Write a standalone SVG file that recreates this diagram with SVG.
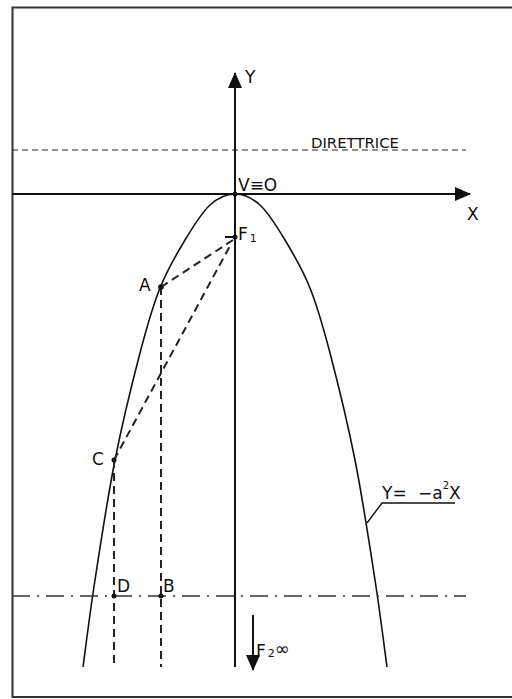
<svg xmlns="http://www.w3.org/2000/svg" width="512" height="699" viewBox="0 0 512 699">
<style>
text{font-family:"DejaVu Sans","Liberation Sans",sans-serif;fill:#111}
.lbl{font-size:17px}
.sub{font-size:11px}
.ax{stroke:#111;stroke-width:2;fill:none}
.dash{stroke:#222;stroke-width:2;stroke-dasharray:8 5;fill:none}
.dot{fill:#111}
</style>
<defs>
<marker id="arrBig" markerWidth="16" markerHeight="14" refX="15" refY="7" orient="auto" markerUnits="userSpaceOnUse" viewBox="0 0 16 14">
<path d="M0,0 L16,7 L0,14 Z" fill="#111"/>
</marker>
</defs>
<rect x="0" y="0" width="512" height="699" fill="#fff"/>
<rect x="12.5" y="7.5" width="512" height="689.5" fill="none" stroke="#333" stroke-width="2"/>

<g id="axes">
<line class="ax" x1="235" y1="667" x2="235" y2="73" marker-end="url(#arrBig)"/>
<line class="ax" x1="12" y1="194" x2="470" y2="194" marker-end="url(#arrBig)"/>
<text class="lbl" x="245" y="83">Y</text>
<text class="lbl" x="467" y="220">X</text>
</g>

<g id="directrix">
<line x1="12" y1="150" x2="466" y2="150" stroke="#222" stroke-width="1.2" stroke-dasharray="6 4"/>
<text x="311" y="148" font-size="14" textLength="88" lengthAdjust="spacingAndGlyphs">DIRETTRICE</text>
</g>

<g id="parabola">
<path d="M83,667 C85,652.5 89.67,614.5 95,580 C100.33,545.5 107.5,497.83 115,460 C122.5,422.17 132.5,381.67 140,353 C147.5,324.33 152.5,306.83 160,288 C167.5,269.17 176.67,253.83 185,240 C193.33,226.17 201.67,212.67 210,205 C218.33,197.33 226.67,194 235,194 C243.33,194 251.67,197.33 260,205 C268.33,212.67 276.67,226.17 285,240 C293.33,253.83 302.5,269.17 310,288 C317.5,306.83 322.5,324.33 330,353 C337.5,381.67 347.5,422.17 355,460 C362.5,497.83 369.67,545.5 375,580 C380.33,614.5 385,652.5 387,667" fill="none" stroke="#111" stroke-width="1.6"/>
</g>

<g id="equation">
<polyline points="367,523 382,503 455,503" fill="none" stroke="#111" stroke-width="1.4"/>
<text class="lbl" x="382" y="499">Y=</text>
<text class="lbl" x="418" y="499">−a<tspan font-size="10" dx="0" dy="-10">2</tspan><tspan dx="0" dy="10">X</tspan></text>
</g>

<g id="axis-line">
<line x1="12" y1="596" x2="466" y2="596" stroke="#333" stroke-width="1.6" stroke-dasharray="18 7 2 7"/>
</g>

<g id="connectors">
<line class="dash" x1="161" y1="287" x2="233" y2="240"/>
<line class="dash" x1="114" y1="460" x2="231" y2="244"/>
<line class="dash" x1="161" y1="287" x2="161" y2="667"/>
<line class="dash" x1="114" y1="460" x2="114" y2="667"/>
</g>

<g id="node-V">
<circle class="dot" cx="235" cy="194" r="2.5"/>
<text class="lbl" x="238" y="191">V≡O</text>
</g>

<g id="node-F1">
<line x1="225" y1="237" x2="236" y2="237" stroke="#111" stroke-width="2"/>
<circle class="dot" cx="235" cy="237" r="2.5"/>
<text class="lbl" x="238" y="240">F<tspan class="sub" dx="2" dy="2">1</tspan></text>
</g>

<g id="node-A">
<circle class="dot" cx="161" cy="287" r="2.8"/>
<text class="lbl" x="139" y="291">A</text>
</g>

<g id="node-C">
<circle class="dot" cx="114" cy="460" r="2.5"/>
<text class="lbl" x="92" y="465">C</text>
</g>

<g id="node-D">
<circle class="dot" cx="114" cy="596" r="2.5"/>
<text class="lbl" x="117" y="592">D</text>
</g>

<g id="node-B">
<circle class="dot" cx="161" cy="596" r="2.5"/>
<text class="lbl" x="163" y="592">B</text>
</g>

<g id="node-F2">
<line x1="253" y1="615" x2="253" y2="670" stroke="#111" stroke-width="2" marker-end="url(#arrBig)"/>
<text class="lbl" x="256" y="657">F<tspan font-size="11" dx="2" dy="0">2</tspan><tspan font-size="18" dx="0" dy="-2">∞</tspan></text>
</g>
</svg>
